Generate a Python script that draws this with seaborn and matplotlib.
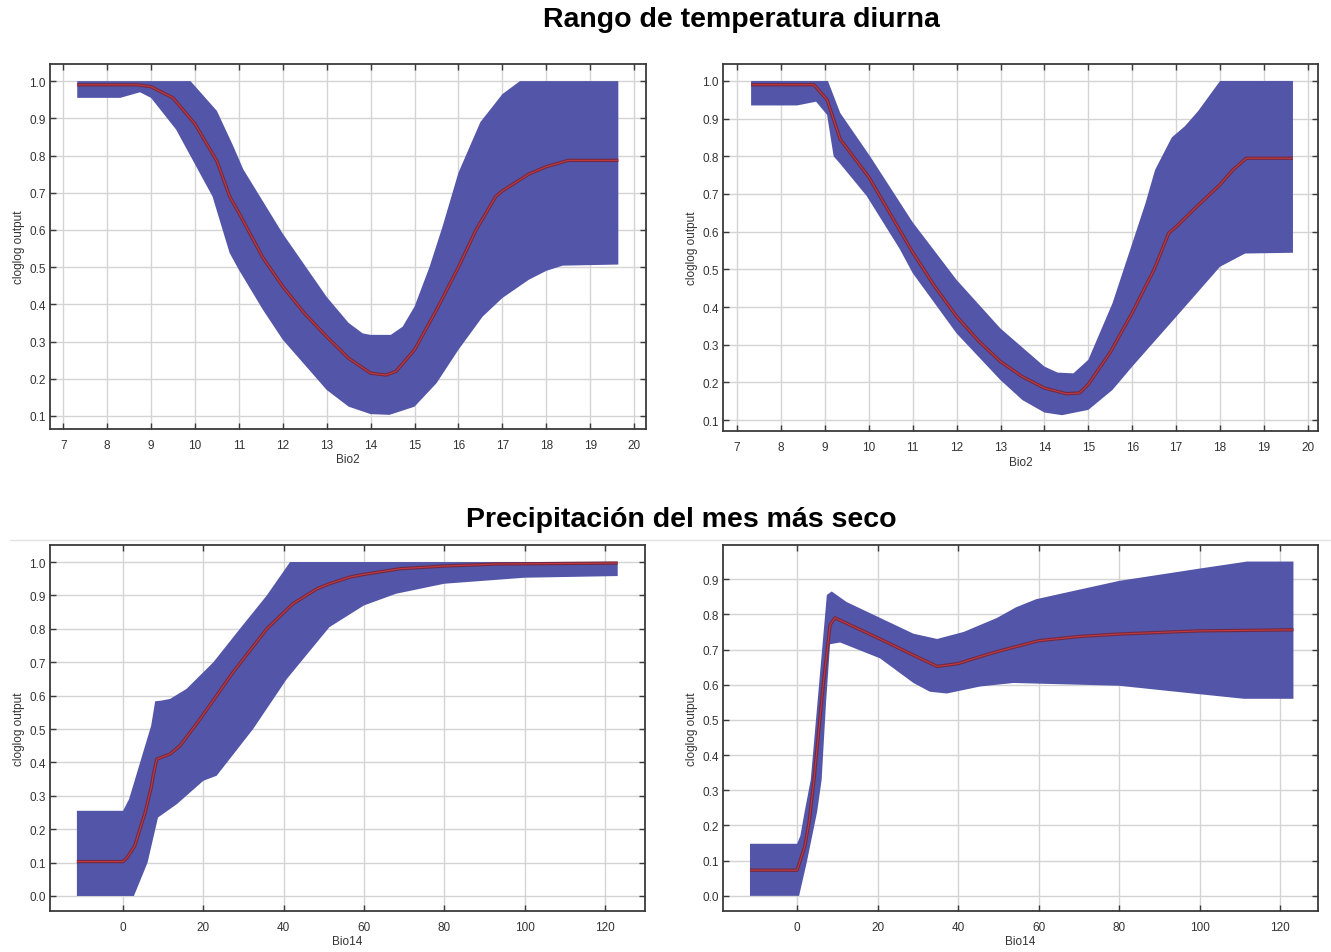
import matplotlib
matplotlib.use("Agg")
import matplotlib.pyplot as plt
import matplotlib.lines as mlines
import seaborn as sns
import numpy as np

# --- Bio2, modelo A (arriba izquierda)
bio2a_mean_x = [7.32, 8.7, 9.0, 9.5, 10.0, 10.5, 10.79, 11.0, 11.55, 12.0, 12.5, 13.0, 13.5, 14.0,
                14.35, 14.58, 15.0, 15.5, 16.0, 16.4, 16.85, 17.0, 17.6, 18.0, 18.5, 19.64]
bio2a_mean_y = [0.99, 0.99, 0.985, 0.955, 0.885, 0.785, 0.69, 0.646, 0.525, 0.448, 0.375, 0.313, 0.255, 0.215,
                0.21, 0.22, 0.278, 0.385, 0.50, 0.60, 0.69, 0.705, 0.75, 0.77, 0.787, 0.787]
bio2a_up_x = [7.32, 9.9, 10.2, 10.5, 10.87, 11.1, 12.0, 13.0, 13.5, 13.82, 14.0, 14.46, 14.73, 15.0,
              15.34, 15.64, 16.0, 16.5, 17.0, 17.4, 19.64]
bio2a_up_y = [1.0, 1.0, 0.96, 0.92, 0.826, 0.763, 0.59, 0.42, 0.35, 0.322, 0.318, 0.318, 0.34, 0.394,
              0.50, 0.61, 0.754, 0.89, 0.965, 1.0, 1.0]
bio2a_lo_x = [7.32, 8.3, 8.75, 9.0, 9.57, 10.4, 10.79, 11.0, 11.55, 12.0, 13.0, 13.5, 14.0, 14.43,
              15.0, 15.5, 16.0, 16.55, 17.0, 17.6, 18.0, 18.37, 19.64]
bio2a_lo_y = [0.955, 0.955, 0.97, 0.955, 0.87, 0.69, 0.538, 0.493, 0.385, 0.305, 0.17, 0.125, 0.105, 0.103,
              0.125, 0.188, 0.278, 0.367, 0.417, 0.466, 0.49, 0.504, 0.507]

# --- Bio2, modelo B (arriba derecha)
bio2b_mean_x = [7.32, 8.75, 9.05, 9.35, 10.0, 10.5, 11.0, 11.5, 12.0, 12.5, 13.0, 13.5, 14.0, 14.5,
                14.8, 15.0, 15.5, 16.0, 16.5, 16.83, 17.0, 17.5, 18.0, 18.3, 18.6, 19.66]
bio2b_mean_y = [0.99, 0.99, 0.95, 0.845, 0.745, 0.645, 0.545, 0.455, 0.375, 0.31, 0.255, 0.215, 0.185, 0.17,
                0.172, 0.195, 0.28, 0.385, 0.50, 0.596, 0.613, 0.67, 0.725, 0.765, 0.795, 0.795]
bio2b_up_x = [7.32, 9.07, 9.35, 10.03, 11.0, 12.0, 13.0, 14.0, 14.3, 14.66, 15.0, 15.55, 16.0, 16.3,
              16.52, 16.9, 17.2, 17.5, 18.0, 19.66]
bio2b_up_y = [1.0, 1.0, 0.915, 0.80, 0.625, 0.472, 0.343, 0.242, 0.226, 0.224, 0.26, 0.41, 0.569, 0.675,
              0.764, 0.85, 0.88, 0.92, 1.0, 1.0]
bio2b_lo_x = [7.32, 8.37, 8.8, 9.05, 9.2, 9.35, 9.95, 10.7, 11.0, 12.0, 13.0, 13.5, 14.0, 14.4,
              15.0, 15.55, 16.0, 17.0, 18.0, 18.57, 19.66]
bio2b_lo_y = [0.935, 0.935, 0.945, 0.91, 0.80, 0.78, 0.695, 0.555, 0.49, 0.33, 0.206, 0.153, 0.12, 0.113,
              0.127, 0.18, 0.242, 0.374, 0.507, 0.542, 0.544]

# --- Bio14, modelo A (abajo izquierda)
bio14a_mean_x = [-11.5, 0.0, 1.0, 2.9, 5.5, 7.1, 7.5, 8.4, 11.7, 14.2, 19.2, 27.4, 35.8, 42.3,
                 48.3, 51.4, 56.5, 60.0, 69.0, 80.0, 92.9, 123.2]
bio14a_mean_y = [0.103, 0.103, 0.115, 0.15, 0.25, 0.33, 0.36, 0.41, 0.425, 0.45, 0.53, 0.67, 0.80, 0.875,
                 0.92, 0.935, 0.955, 0.963, 0.98, 0.988, 0.994, 0.997]
bio14a_up_x = [-11.5, 0.0, 1.5, 3.0, 5.0, 7.0, 8.0, 9.5, 11.7, 15.8, 22.5, 29.1, 35.8, 41.6, 123.2]
bio14a_up_y = [0.255, 0.255, 0.29, 0.35, 0.43, 0.51, 0.583, 0.585, 0.59, 0.62, 0.70, 0.80, 0.90, 1.0, 1.0]
bio14a_lo_x = [-11.5, 2.7, 6.1, 8.7, 13.4, 20.0, 23.3, 32.4, 40.8, 49.0, 51.4, 60.0, 68.0, 80.0, 100.0, 123.2]
bio14a_lo_y = [0.0, 0.0, 0.10, 0.235, 0.275, 0.345, 0.36, 0.50, 0.65, 0.77, 0.805, 0.87, 0.905, 0.935, 0.953, 0.958]

# --- Bio14, modelo B (abajo derecha)
bio14b_mean_x = [-11.7, 0.0, 1.9, 3.0, 4.2, 6.5, 8.2, 9.4, 20.6, 28.9, 34.8, 40.0, 45.5, 50.3,
                 60.0, 70.0, 80.0, 100.0, 123.3]
bio14b_mean_y = [0.073, 0.073, 0.14, 0.21, 0.33, 0.60, 0.77, 0.79, 0.73, 0.684, 0.652, 0.66, 0.68, 0.696,
                 0.725, 0.737, 0.744, 0.753, 0.756]
bio14b_up_x = [-11.7, 0.0, 0.8, 1.9, 3.4, 7.4, 8.6, 12.3, 20.6, 28.9, 34.8, 41.4, 49.7, 54.4,
               59.4, 66.9, 80.0, 100.0, 111.8, 123.3]
bio14b_up_y = [0.148, 0.148, 0.17, 0.24, 0.33, 0.855, 0.865, 0.835, 0.79, 0.745, 0.73, 0.75, 0.79, 0.82,
               0.843, 0.862, 0.895, 0.93, 0.95, 0.95]
bio14b_lo_x = [-11.7, 0.5, 2.4, 5.0, 6.1, 7.2, 8.2, 10.7, 20.6, 28.9, 33.0, 37.2, 45.5, 53.8,
               60.0, 70.3, 80.0, 100.0, 111.0, 123.3]
bio14b_lo_y = [0.0, 0.0, 0.095, 0.24, 0.33, 0.55, 0.715, 0.72, 0.675, 0.605, 0.58, 0.575, 0.595, 0.605,
               0.603, 0.60, 0.597, 0.573, 0.56, 0.56]

bio2_ticks = list(range(7, 21))
bio14_ticks = [0, 20, 40, 60, 80, 100, 120]

sns.set_theme(style="whitegrid")
plt.rcParams['font.family'] = ['Liberation Sans', 'DejaVu Sans']

BAND = '#5355a8'
EDGE = '#6e2a44'
CORE = '#c8383c'

W, H = 1331, 953
fig = plt.figure(figsize=(W / 100, H / 100), dpi=100)


def panel(px, mx, my, ux, uy, lx, ly, xlim, ylim, xticks, yticks, xlabel):
    ax = fig.add_axes([px[0] / W, 1 - px[3] / H, (px[2] - px[0]) / W, (px[3] - px[1]) / H])
    ax.set_facecolor('white')
    # banda: borde superior de izquierda a derecha, inferior de vuelta
    ax.fill(np.concatenate([ux, lx[::-1]]), np.concatenate([uy, ly[::-1]]),
            color=BAND, lw=0, zorder=2)
    sns.lineplot(x=mx, y=my, ax=ax, color=EDGE, lw=2.4, zorder=3,
                 solid_capstyle='butt', solid_joinstyle='round')
    sns.lineplot(x=mx, y=my, ax=ax, color=CORE, lw=0.8, zorder=4,
                 solid_capstyle='butt', solid_joinstyle='round')
    ax.set_xlim(*xlim)
    ax.set_ylim(*ylim)
    ax.set_xticks(xticks)
    ax.set_yticks(yticks)
    ax.set_yticklabels([f'{v:.1f}' for v in yticks])
    ax.grid(True, color='#d4d4d4', lw=1.0, zorder=0)
    ax.set_axisbelow(True)
    for s in ax.spines.values():
        s.set_visible(True)
        s.set_color('#3a3a3a')
        s.set_linewidth(1.3)
    ax.tick_params(direction='in', length=4, width=1.0, color='#3a3a3a',
                   top=True, right=True, bottom=True, left=True,
                   labelsize=8.5, labelcolor='#333333')
    ax.tick_params(axis='x', pad=7)
    ax.tick_params(axis='y', pad=3)
    ax.set_xlabel(xlabel, fontsize=8.5, color='#333333', labelpad=2)
    ax.set_ylabel('cloglog output', fontsize=8.5, color='#333333', labelpad=3)
    return ax


panel((50, 65, 646, 430), bio2a_mean_x, bio2a_mean_y, bio2a_up_x, bio2a_up_y, bio2a_lo_x, bio2a_lo_y,
      (6.70, 20.27), (0.065, 1.046), bio2_ticks, [round(0.1 * i, 1) for i in range(1, 11)], 'Bio2')
panel((723, 65, 1318, 432), bio2b_mean_x, bio2b_mean_y, bio2b_up_x, bio2b_up_y, bio2b_lo_x, bio2b_lo_y,
      (6.68, 20.23), (0.071, 1.045), bio2_ticks, [round(0.1 * i, 1) for i in range(1, 11)], 'Bio2')
panel((50, 546, 645, 912), bio14a_mean_x, bio14a_mean_y, bio14a_up_x, bio14a_up_y, bio14a_lo_x, bio14a_lo_y,
      (-18.2, 130.0), (-0.045, 1.051), bio14_ticks, [round(0.1 * i, 1) for i in range(0, 11)], 'Bio14')
panel((723, 546, 1318, 912), bio14b_mean_x, bio14b_mean_y, bio14b_up_x, bio14b_up_y, bio14b_lo_x, bio14b_lo_y,
      (-18.4, 129.4), (-0.043, 0.997), bio14_ticks, [round(0.1 * i, 1) for i in range(0, 10)], 'Bio14')

fig.text(741 / W, 1 - 20 / H, 'Rango de temperatura diurna', ha='center', va='center',
         fontsize=20.5, fontweight='bold', color='black')
fig.text(681 / W, 1 - 520 / H, 'Precipitación del mes más seco', ha='center', va='center',
         fontsize=20.5, fontweight='bold', color='black')
fig.add_artist(mlines.Line2D([10 / W, 1330 / W], [1 - 541 / H, 1 - 541 / H], color='#e2e2e2', lw=1))

fig.savefig('out.png', dpi=100, facecolor='white')
